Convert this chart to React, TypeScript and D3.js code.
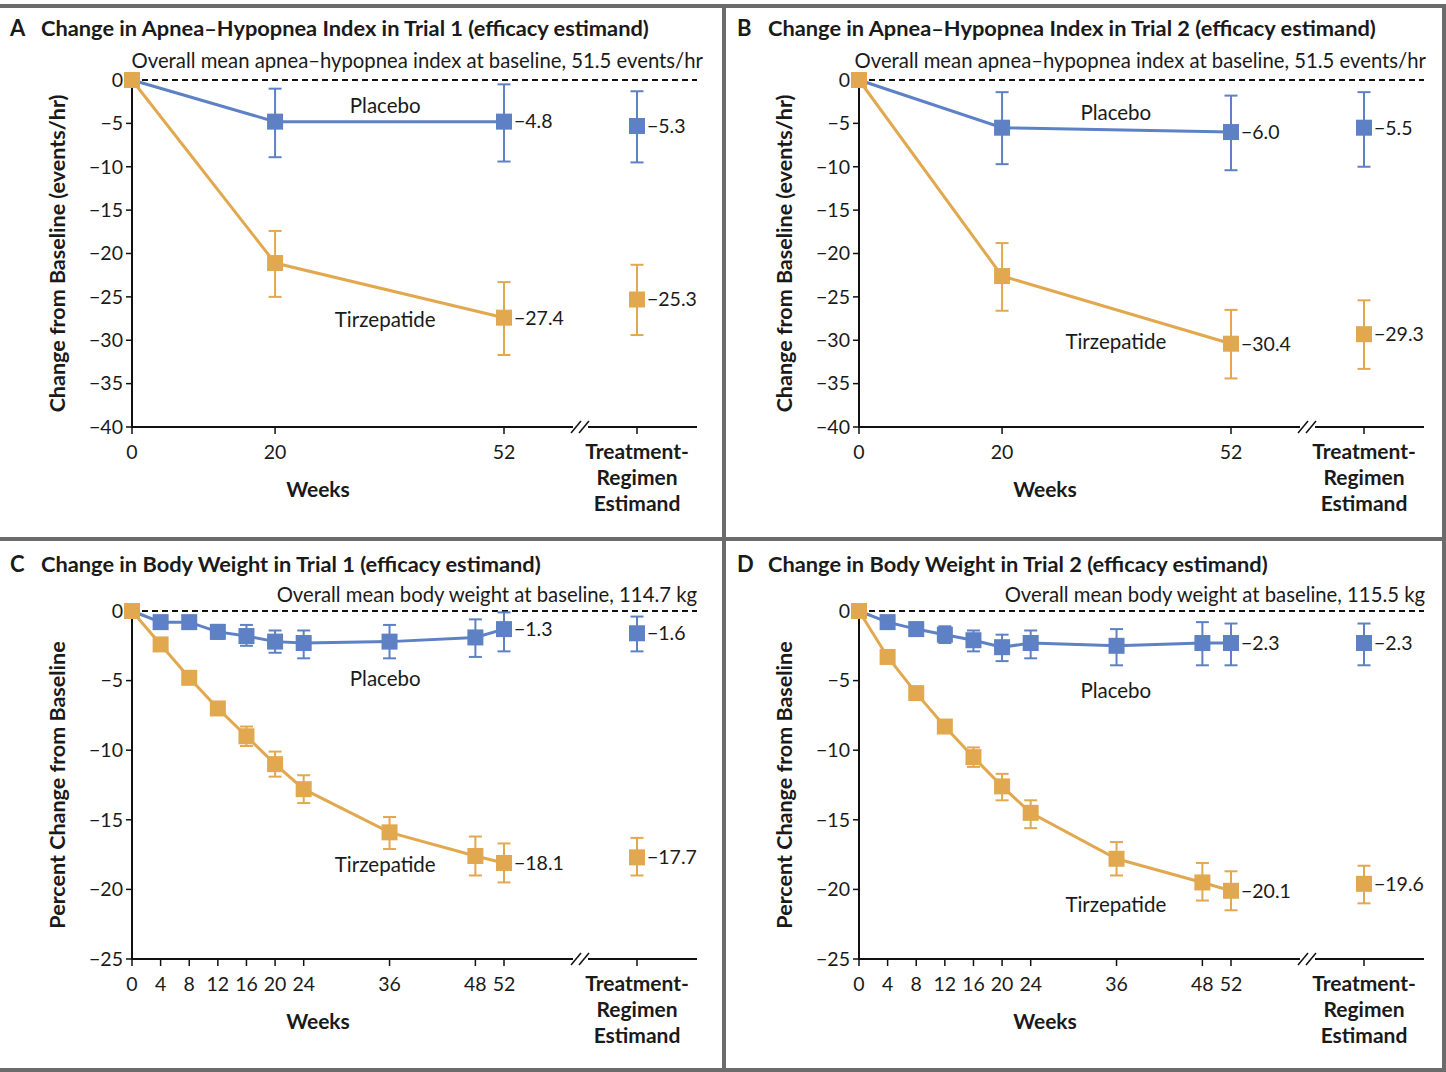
import React from 'react';
import * as d3 from 'd3';

const FONT = 'Lato, "Open Sans", sans-serif';
const BLUE = '#5d81c4';
const ORANGE = '#e2a84f';
const FRAME = '#6b6b6b';

// ---- data ----
const weeksAHI = [0, 20, 52];
const weeksBW = [0, 4, 8, 12, 16, 20, 24, 36, 48, 52];

const placeboA = [0, -4.8, -4.8];
const placeboCiA: [number, number][] = [[0, 0], [-1.0, -8.9], [-0.5, -9.4]];
const tirzA = [0, -21.1, -27.4];
const tirzCiA: [number, number][] = [[0, 0], [-17.4, -25.0], [-23.3, -31.7]];
const trA = { placebo: -5.3, placeboCi: [-1.3, -9.5], tirz: -25.3, tirzCi: [-21.3, -29.4] };

const placeboB = [0, -5.5, -6.0];
const placeboCiB: [number, number][] = [[0, 0], [-1.4, -9.7], [-1.8, -10.4]];
const tirzB = [0, -22.6, -30.4];
const tirzCiB: [number, number][] = [[0, 0], [-18.8, -26.6], [-26.5, -34.4]];
const trB = { placebo: -5.5, placeboCi: [-1.4, -10.0], tirz: -29.3, tirzCi: [-25.4, -33.3] };

const placeboC = [0, -0.8, -0.8, -1.5, -1.8, -2.2, -2.3, -2.2, -1.9, -1.3];
const placeboCiC: [number, number][] = [[0, 0], [-0.5, -1.1], [-0.5, -1.1], [-1.0, -2.0], [-1.0, -2.5], [-1.4, -3.0], [-1.4, -3.4], [-1.0, -3.4], [-0.6, -3.3], [-0.1, -2.9]];
const tirzC = [0, -2.4, -4.8, -7.0, -9.0, -11.0, -12.8, -15.9, -17.6, -18.1];
const tirzCiC: [number, number][] = [[0, 0], [-2.1, -2.7], [-4.5, -5.1], [-6.6, -7.4], [-8.3, -9.7], [-10.1, -11.9], [-11.8, -13.8], [-14.8, -17.1], [-16.2, -19.0], [-16.7, -19.5]];
const trC = { placebo: -1.6, placeboCi: [-0.4, -2.9], tirz: -17.7, tirzCi: [-16.3, -19.0] };

const placeboD = [0, -0.8, -1.3, -1.7, -2.1, -2.6, -2.3, -2.5, -2.3, -2.3];
const placeboCiD: [number, number][] = [[0, 0], [-0.5, -1.1], [-1.0, -1.6], [-1.1, -2.3], [-1.4, -2.9], [-1.7, -3.6], [-1.4, -3.4], [-1.3, -3.9], [-0.8, -3.9], [-0.9, -3.9]];
const tirzD = [0, -3.3, -5.9, -8.3, -10.5, -12.6, -14.5, -17.8, -19.5, -20.1];
const tirzCiD: [number, number][] = [[0, 0], [-3.0, -3.6], [-5.6, -6.2], [-8.0, -8.6], [-9.8, -11.2], [-11.7, -13.6], [-13.6, -15.6], [-16.6, -19.0], [-18.1, -20.8], [-18.7, -21.5]];
const trD = { placebo: -2.3, placeboCi: [-0.9, -3.9], tirz: -19.6, tirzCi: [-18.3, -21.0] };

const ticksAHI = d3.range(-40, 1, 5);
const ticksBW = d3.range(-25, 1, 5);

type Panel = {
  letter: string;
  title: string;
  subtitle: string;
  yLabel: string;
  ox: number;
  top: number; // pixel of y = 0
  bottom: number; // pixel of y = min
  yMin: number;
  yTicks: number[];
  titleY: number;
  subY: number;
  subRight: number;
  weeks: number[];
  placebo: number[];
  placeboCi: [number, number][];
  tirz: number[];
  tirzCi: [number, number][];
  tr: { placebo: number; placeboCi: number[]; tirz: number; tirzCi: number[] };
  placeboLabel: [number, number];
  tirzLabel: [number, number];
};

const panels: Panel[] = [
  {
    letter: 'A', title: 'Change in Apnea\u2013Hypopnea Index in Trial 1 (efficacy estimand)',
    subtitle: 'Overall mean apnea\u2013hypopnea index at baseline, 51.5 events/hr',
    yLabel: 'Change from Baseline (events/hr)', ox: 0, top: 80, bottom: 427, yMin: -40, yTicks: ticksAHI,
    titleY: 36, subY: 68, subRight: 703, weeks: weeksAHI,
    placebo: placeboA, placeboCi: placeboCiA, tirz: tirzA, tirzCi: tirzCiA, tr: trA,
    placeboLabel: [35.4, -3.0], tirzLabel: [35.4, -27.7],
  },
  {
    letter: 'B', title: 'Change in Apnea\u2013Hypopnea Index in Trial 2 (efficacy estimand)',
    subtitle: 'Overall mean apnea\u2013hypopnea index at baseline, 51.5 events/hr',
    yLabel: 'Change from Baseline (events/hr)', ox: 727, top: 80, bottom: 427, yMin: -40, yTicks: ticksAHI,
    titleY: 36, subY: 68, subRight: 699, weeks: weeksAHI,
    placebo: placeboB, placeboCi: placeboCiB, tirz: tirzB, tirzCi: tirzCiB, tr: trB,
    placeboLabel: [35.9, -3.8], tirzLabel: [35.9, -30.2],
  },
  {
    letter: 'C', title: 'Change in Body Weight in Trial 1 (efficacy estimand)',
    subtitle: 'Overall mean body weight at baseline, 114.7 kg',
    yLabel: 'Percent Change from Baseline', ox: 0, top: 611, bottom: 959, yMin: -25, yTicks: ticksBW,
    titleY: 572, subY: 602, subRight: 697, weeks: weeksBW,
    placebo: placeboC, placeboCi: placeboCiC, tirz: tirzC, tirzCi: tirzCiC, tr: trC,
    placeboLabel: [35.4, -4.9], tirzLabel: [35.4, -18.2],
  },
  {
    letter: 'D', title: 'Change in Body Weight in Trial 2 (efficacy estimand)',
    subtitle: 'Overall mean body weight at baseline, 115.5 kg',
    yLabel: 'Percent Change from Baseline', ox: 727, top: 611, bottom: 959, yMin: -25, yTicks: ticksBW,
    titleY: 572, subY: 602, subRight: 698, weeks: weeksBW,
    placebo: placeboD, placeboCi: placeboCiD, tirz: tirzD, tirzCi: tirzCiD, tr: trD,
    placeboLabel: [35.9, -5.7], tirzLabel: [35.9, -21.1],
  },
];

const fmt = (v: number) => (v < 0 ? '\u2212' : '') + Math.abs(v).toFixed(1);
const fmtTick = (v: number) => (v < 0 ? '\u2212' : '') + Math.abs(v);

const MARK = 16;
const CAP = 13;

function ChartPanel({ p }: { p: Panel }) {
  const x = d3.scaleLinear().domain([0, 52]).range([132, 504]);
  const y = d3.scaleLinear().domain([p.yMin, 0]).range([p.bottom, p.top]);
  const trX = 637;
  const axisEnd = 697;
  const breakX = 580;
  const line = d3.line<number>().x((_, i) => x(p.weeks[i])).y((d) => y(d));

  const errBar = (cx: number, ci: number[] | [number, number], color: string, key: string) => (
    <g key={key} stroke={color} strokeWidth={2}>
      <line x1={cx} x2={cx} y1={y(ci[0])} y2={y(ci[1])} />
      <line x1={cx - CAP / 2} x2={cx + CAP / 2} y1={y(ci[0])} y2={y(ci[0])} />
      <line x1={cx - CAP / 2} x2={cx + CAP / 2} y1={y(ci[1])} y2={y(ci[1])} />
    </g>
  );
  const mark = (cx: number, cy: number, color: string, key: string) => (
    <rect key={key} x={cx - MARK / 2} y={cy - MARK / 2} width={MARK} height={MARK} fill={color} />
  );

  const xTickY = p.bottom + 32;
  const midY = (p.top + p.bottom) / 2;

  return (
    <g transform={`translate(${p.ox},0)`} fontFamily={FONT}>
      <text x={10} y={p.titleY} fontSize={22} fontWeight={700} fill="#1a1a1a">{p.letter}</text>
      <text x={41} y={p.titleY} fontSize={21.8} fontWeight={700} fill="#1a1a1a">{p.title}</text>
      <text x={p.subRight} y={p.subY} fontSize={20.3} textAnchor="end" fill="#1a1a1a">{p.subtitle}</text>

      {/* y axis */}
      <line x1={132} x2={132} y1={p.top} y2={p.bottom} stroke="#111" strokeWidth={2} />
      {p.yTicks.map((t) => (
        <g key={t}>
          <line x1={126} x2={132} y1={y(t)} y2={y(t)} stroke="#111" strokeWidth={1.5} />
          <text x={123} y={y(t)} dy="0.35em" fontSize={19.5} textAnchor="end" fill="#1a1a1a">{fmtTick(t)}</text>
        </g>
      ))}
      <text transform={`translate(57,${midY}) rotate(-90)`} dy="0.35em" fontSize={21.5} fontWeight={700}
        textAnchor="middle" fill="#1a1a1a">{p.yLabel}</text>

      {/* x axis with break */}
      <line x1={131} x2={breakX - 7} y1={p.bottom} y2={p.bottom} stroke="#111" strokeWidth={2} />
      <line x1={breakX + 8} x2={axisEnd} y1={p.bottom} y2={p.bottom} stroke="#111" strokeWidth={2} />
      <line x1={breakX - 9} x2={breakX + 1} y1={p.bottom + 6} y2={p.bottom - 6} stroke="#111" strokeWidth={1.5} />
      <line x1={breakX - 1} x2={breakX + 9} y1={p.bottom + 6} y2={p.bottom - 6} stroke="#111" strokeWidth={1.5} />
      {p.weeks.map((w) => (
        <g key={w}>
          <line x1={x(w)} x2={x(w)} y1={p.bottom} y2={p.bottom + 7} stroke="#111" strokeWidth={1.5} />
          <text x={x(w)} y={xTickY} fontSize={19.5} textAnchor="middle" fill="#1a1a1a">{w}</text>
        </g>
      ))}
      <line x1={trX} x2={trX} y1={p.bottom} y2={p.bottom + 7} stroke="#111" strokeWidth={1.5} />
      {['Treatment-', 'Regimen', 'Estimand'].map((s, i) => (
        <text key={s} x={trX} y={xTickY + i * 26} fontSize={21} fontWeight={700} textAnchor="middle" fill="#1a1a1a">{s}</text>
      ))}
      <text x={(x(0) + x(52)) / 2} y={xTickY + 38} fontSize={21} fontWeight={700} textAnchor="middle" fill="#1a1a1a">Weeks</text>

      {/* zero reference */}
      <line x1={x(0)} x2={axisEnd} y1={y(0)} y2={y(0)} stroke="#111" strokeWidth={2} strokeDasharray="6,4" />

      {/* series */}
      <path d={line(p.placebo) || ''} fill="none" stroke={BLUE} strokeWidth={3} />
      <path d={line(p.tirz) || ''} fill="none" stroke={ORANGE} strokeWidth={3} />
      {p.weeks.map((w, i) => (i > 0 ? errBar(x(w), p.placeboCi[i], BLUE, `pe${i}`) : null))}
      {p.weeks.map((w, i) => (i > 0 ? errBar(x(w), p.tirzCi[i], ORANGE, `te${i}`) : null))}
      {p.weeks.map((w, i) => mark(x(w), y(p.placebo[i]), BLUE, `pm${i}`))}
      {p.weeks.map((w, i) => mark(x(w), y(p.tirz[i]), ORANGE, `tm${i}`))}

      {errBar(trX, p.tr.placeboCi, BLUE, 'trpe')}
      {errBar(trX, p.tr.tirzCi, ORANGE, 'trte')}
      {mark(trX, y(p.tr.placebo), BLUE, 'trpm')}
      {mark(trX, y(p.tr.tirz), ORANGE, 'trtm')}

      {/* value labels */}
      {[
        [x(52), p.placebo[p.placebo.length - 1]],
        [x(52), p.tirz[p.tirz.length - 1]],
        [trX, p.tr.placebo],
        [trX, p.tr.tirz],
      ].map(([cx, v], i) => (
        <text key={i} x={cx + 10} y={y(v)} dy="0.35em" fontSize={19.5} fill="#1a1a1a">{fmt(v)}</text>
      ))}

      <text x={x(p.placeboLabel[0])} y={y(p.placeboLabel[1])} dy="0.35em" fontSize={20.5} textAnchor="middle" fill="#1a1a1a">Placebo</text>
      <text x={x(p.tirzLabel[0])} y={y(p.tirzLabel[1])} dy="0.35em" fontSize={20.5} textAnchor="middle" fill="#1a1a1a">Tirzepatide</text>
    </g>
  );
}

export default function App() {
  return (
    <svg width={1446} height={1072} style={{ position: 'absolute', left: 0, top: 0, background: '#fff' }}>
      <rect x={0} y={0} width={1446} height={1072} fill="#fff" />
      {panels.map((p) => <ChartPanel key={p.letter} p={p} />)}
      {/* frame */}
      <rect x={0} y={4} width={1446} height={4} fill={FRAME} />
      <rect x={1442} y={4} width={4} height={1068} fill={FRAME} />
      <rect x={0} y={1068} width={1446} height={4} fill={FRAME} />
      <rect x={722} y={4} width={4} height={1068} fill={FRAME} />
      <rect x={0} y={537} width={1446} height={4} fill={FRAME} />
    </svg>
  );
}
